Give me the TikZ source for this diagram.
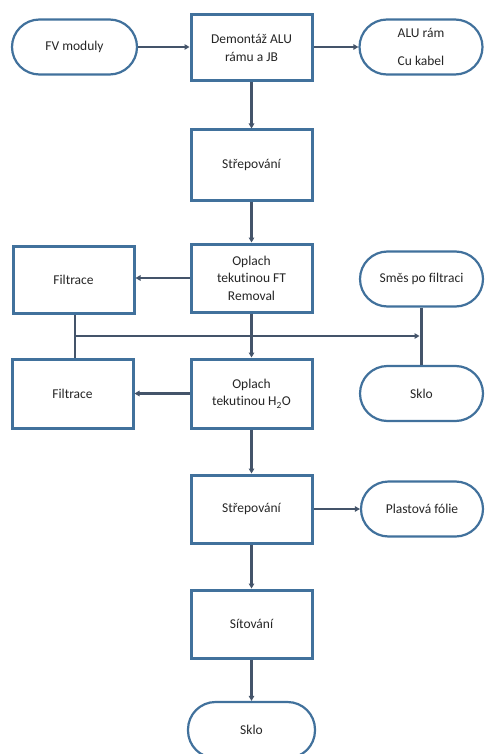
\documentclass[tikz,border=0pt]{standalone}
\usepackage{fontspec}
\setmainfont[Ligatures=NoCommon]{Carlito}
\usetikzlibrary{arrows.meta}
\definecolor{bordc}{RGB}{65,113,156}
\definecolor{linec}{RGB}{68,84,106}
\definecolor{txtc}{RGB}{38,38,38}
\begin{document}
\begin{tikzpicture}[x=1pt,y=-1pt,
  every node/.style={font=\fontsize{13.5}{17.5}\selectfont, text=txtc, align=center, inner sep=0pt},
  procbox/.style={draw=bordc, line width=3pt, fill=white, minimum width=121pt},
  term/.style={draw=bordc, line width=2.2pt, fill=white, rounded corners=27.5pt, minimum height=55pt},
  arr/.style={draw=linec, line width=2.3pt, -{Triangle[length=5pt,width=5.5pt]}},
  lin/.style={draw=linec, line width=2.3pt}]
\useasboundingbox (0,0) rectangle (484,754);
% process boxes
\node[procbox, minimum height=66pt] (demont) at (251.5,48) {Demontáž ALU\\rámu a JB};
\node[procbox, minimum height=70pt] (strep1) at (251.5,165) {Střepování};
\node[procbox, minimum height=68pt] (oplFT) at (251.5,278) {Oplach\\tekutinou FT\\Removal};
\node[procbox, minimum height=67pt] (filtA) at (73.5,279.5) {Filtrace};
\node[procbox, minimum height=69pt] (oplH) at (251.5,393.5) {Oplach\\tekutinou H\textsubscript{2}O};
\node[procbox, minimum height=69pt] (filtB) at (72.5,393.5) {Filtrace};
\node[procbox, minimum height=68pt] (strep2) at (251.5,509) {Střepování};
\node[procbox, minimum height=68pt] (sit) at (251.5,624) {Sítování};
% terminators
\node[term, minimum width=125pt] (fv) at (74.5,47) {FV moduly};
\node[term, minimum width=123pt] (alu) at (421,47) {ALU rám\\[11pt]Cu kabel};
\node[term, minimum width=123pt] (smes) at (421.5,279) {Směs po filtraci};
\node[term, minimum width=123pt] (sklo1) at (421.5,393.5) {Sklo};
\node[term, minimum width=122pt] (plast) at (422,509) {Plastová fólie};
\node[term, minimum width=127pt, minimum height=56pt] (sklo2) at (251.5,730) {Sklo};
% connectors
\draw[arr] (fv.east) -- (fv.east -| demont.west);
\draw[arr] (demont.east |- alu.west) -- (alu.west);
\draw[arr] (demont.south) -- (strep1.north);
\draw[arr] (strep1.south) -- (oplFT.north);
\draw[arr] (oplFT.west) -- (oplFT.west -| filtA.east);
\draw[arr] (oplFT.south) -- (oplH.north);
\draw[arr] (oplH.west) -- (oplH.west -| filtB.east);
\draw[lin] (filtA.south -| 75,0) -- (filtB.north -| 75,0);
\coordinate (jl) at (75,336);
\draw[arr, shorten >=2pt] (jl) -- (smes.south |- jl);
\draw[lin] (smes.south) -- (sklo1.north);
\draw[arr] (oplH.south) -- (strep2.north);
\draw[arr] (strep2.east) -- (strep2.east -| plast.west);
\draw[arr] (strep2.south) -- (sit.north);
\draw[arr] (sit.south) -- (sklo2.north);
\end{tikzpicture}
\end{document}
